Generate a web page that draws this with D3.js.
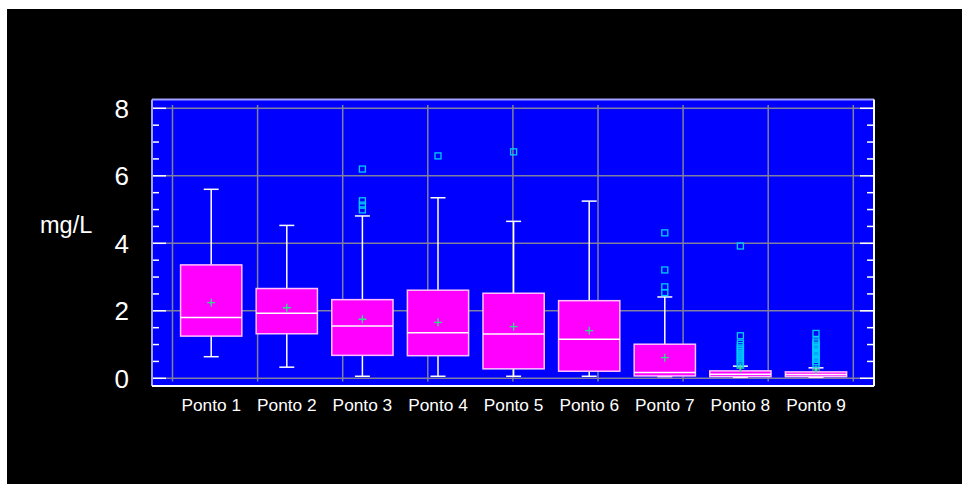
<!DOCTYPE html>
<html>
<head>
<meta charset="utf-8">
<script src="https://cdn.jsdelivr.net/npm/d3@7/dist/d3.min.js"></script>
<style>
  html, body { margin: 0; padding: 0; background: #ffffff; }
  svg { display: block; }
</style>
</head>
<body>
<script>
// ---- Data ----
const categories = ["Ponto 1", "Ponto 2", "Ponto 3", "Ponto 4", "Ponto 5", "Ponto 6", "Ponto 7", "Ponto 8", "Ponto 9"];
const whiskerLow  = [0.64, 0.33, 0.06, 0.06, 0.06, 0.06, 0.05, 0.03, 0.03];
const q1          = [1.25, 1.32, 0.68, 0.67, 0.28, 0.21, 0.07, 0.05, 0.05];
const medians     = [1.80, 1.93, 1.55, 1.35, 1.31, 1.16, 0.17, 0.12, 0.11];
const q3          = [3.36, 2.66, 2.33, 2.61, 2.52, 2.30, 1.01, 0.22, 0.19];
const whiskerHigh = [5.60, 4.53, 4.81, 5.35, 4.65, 5.25, 2.41, 0.36, 0.31];
const means       = [2.24, 2.09, 1.75, 1.66, 1.53, 1.41, 0.61, 0.30, 0.25];
const outliers = [
  [],
  [],
  [6.20, 5.26, 5.13, 4.99],
  [6.59],
  [6.71],
  [],
  [4.31, 3.21, 2.71, 2.54],
  [3.92, 1.26, 1.04, 0.97, 0.90, 0.84, 0.78, 0.72, 0.66, 0.60, 0.54, 0.48, 0.42],
  [1.33, 1.11, 1.05, 0.98, 0.91, 0.84, 0.77, 0.70, 0.63, 0.56, 0.49, 0.42]
];
const yTicks = [0, 2, 4, 6, 8];
const yLabel = "mg/L";

// ---- Layout ----
const W = 962, H = 484;
const plot = { left: 152, right: 874, top: 99.5, bottom: 386 };

const svg = d3.select("body").append("svg").attr("width", W).attr("height", H);
svg.append("rect").attr("x", 0).attr("y", 0).attr("width", W).attr("height", H).attr("fill", "#ffffff");
svg.append("rect").attr("x", 7).attr("y", 9).attr("width", W - 7).attr("height", H - 9).attr("fill", "#000000");

const y = d3.scaleLinear().domain([0, 8]).range([378.3, 108.3]);
const x = d3.scaleBand().domain(categories).range([173.4, 853.8]).paddingInner(0.19).paddingOuter(0.095);
const xGrid = d3.scaleLinear().domain([0, 8]).range([172.5, 853.3]);

// plot background
svg.append("rect").attr("x", plot.left).attr("y", plot.top)
  .attr("width", plot.right - plot.left).attr("height", plot.bottom - plot.top)
  .attr("fill", "#0000ff");

// vertical grid
const g = svg.append("g");
g.selectAll("line.vg").data(d3.range(0, 9)).enter().append("line")
  .attr("x1", d => xGrid(d)).attr("x2", d => xGrid(d))
  .attr("y1", 105).attr("y2", 381.5)
  .attr("stroke", "#7f7f9f").attr("stroke-width", 1.5);
// horizontal grid
g.selectAll("line.hg").data(yTicks).enter().append("line")
  .attr("x1", plot.left).attr("x2", plot.right)
  .attr("y1", d => y(d)).attr("y2", d => y(d))
  .attr("stroke", "#7f7f9f").attr("stroke-width", 1.5);

// ticks (left and right, inward)
const minor = d3.range(0, 8.01, 0.5);
const tickG = svg.append("g");
minor.forEach(v => {
  const major = Math.abs(v % 2) < 1e-9;
  const len = major ? 14 : 7;
  tickG.append("line").attr("x1", plot.left).attr("x2", plot.left + len)
    .attr("y1", y(v)).attr("y2", y(v)).attr("stroke", "#ffffff").attr("stroke-width", 1.5);
  tickG.append("line").attr("x1", plot.right).attr("x2", plot.right - len)
    .attr("y1", y(v)).attr("y2", y(v)).attr("stroke", "#ffffff").attr("stroke-width", 1.5);
});

// y axis labels via d3 axis
const yAxis = d3.axisLeft(y).tickValues(yTicks).tickSize(0).tickPadding(0).tickFormat(d3.format("d"));
const ya = svg.append("g").attr("transform", "translate(129,0)").call(yAxis);
ya.select(".domain").remove();
ya.selectAll("text").attr("fill", "#ffffff").attr("font-family", "Liberation Sans, Arial, sans-serif")
  .attr("font-size", 26).attr("dy", "0.35em");

svg.append("text").attr("x", 40).attr("y", 233).text(yLabel)
  .attr("fill", "#ffffff").attr("font-family", "Liberation Sans, Arial, sans-serif").attr("font-size", 23.5);

// x labels via d3 axis
const xAxis = d3.axisBottom(x).tickSize(0).tickPadding(0);
const xa = svg.append("g").attr("transform", "translate(0,399)").call(xAxis);
xa.select(".domain").remove();
xa.selectAll("text").attr("fill", "#ffffff").attr("font-family", "Liberation Sans, Arial, sans-serif")
  .attr("font-size", 17.3).attr("dy", "0.71em");

// boxes
const bw = x.bandwidth();
const capW = 15;
const boxes = svg.append("g");
categories.forEach((c, i) => {
  const cx = x(c) + bw / 2;
  // whiskers
  boxes.append("line").attr("x1", cx).attr("x2", cx).attr("y1", y(whiskerHigh[i])).attr("y2", y(q3[i]))
    .attr("stroke", "#ffffff").attr("stroke-width", 1.5);
  boxes.append("line").attr("x1", cx).attr("x2", cx).attr("y1", y(q1[i])).attr("y2", y(whiskerLow[i]))
    .attr("stroke", "#ffffff").attr("stroke-width", 1.5);
  boxes.append("line").attr("x1", cx - capW / 2).attr("x2", cx + capW / 2).attr("y1", y(whiskerHigh[i])).attr("y2", y(whiskerHigh[i]))
    .attr("stroke", "#ffffff").attr("stroke-width", 1.5);
  boxes.append("line").attr("x1", cx - capW / 2).attr("x2", cx + capW / 2).attr("y1", y(whiskerLow[i])).attr("y2", y(whiskerLow[i]))
    .attr("stroke", "#ffffff").attr("stroke-width", 1.5);
  // box
  boxes.append("rect").attr("x", x(c)).attr("width", bw)
    .attr("y", y(q3[i])).attr("height", y(q1[i]) - y(q3[i]))
    .attr("fill", "#ff00ff").attr("stroke", "#ffc0ff").attr("stroke-width", 1.5);
  // median
  boxes.append("line").attr("x1", x(c)).attr("x2", x(c) + bw).attr("y1", y(medians[i])).attr("y2", y(medians[i]))
    .attr("stroke", "#ffffff").attr("stroke-width", 1.5);
  // outliers
  outliers[i].forEach(v => {
    boxes.append("rect").attr("x", cx - 3).attr("y", y(v) - 3).attr("width", 6).attr("height", 6)
      .attr("fill", "none").attr("stroke", "#00ccff").attr("stroke-width", 1.3);
  });
  // mean
  const my = y(means[i]);
  boxes.append("path").attr("d", `M${cx - 4},${my}H${cx + 4}M${cx},${my - 4}V${my + 4}`)
    .attr("stroke", "#33dd88").attr("stroke-width", 1.3).attr("fill", "none");
});

// frame
svg.append("line").attr("x1", plot.left).attr("x2", plot.right).attr("y1", plot.top).attr("y2", plot.top)
  .attr("stroke", "#a0a0ff").attr("stroke-width", 2);
svg.append("line").attr("x1", plot.left).attr("x2", plot.left).attr("y1", plot.top).attr("y2", plot.bottom)
  .attr("stroke", "#a0a0ff").attr("stroke-width", 2);
svg.append("line").attr("x1", plot.left).attr("x2", plot.right).attr("y1", plot.bottom).attr("y2", plot.bottom)
  .attr("stroke", "#ffffff").attr("stroke-width", 2);
svg.append("line").attr("x1", plot.right).attr("x2", plot.right).attr("y1", plot.top).attr("y2", plot.bottom)
  .attr("stroke", "#ffffff").attr("stroke-width", 2);
</script>
</body>
</html>
